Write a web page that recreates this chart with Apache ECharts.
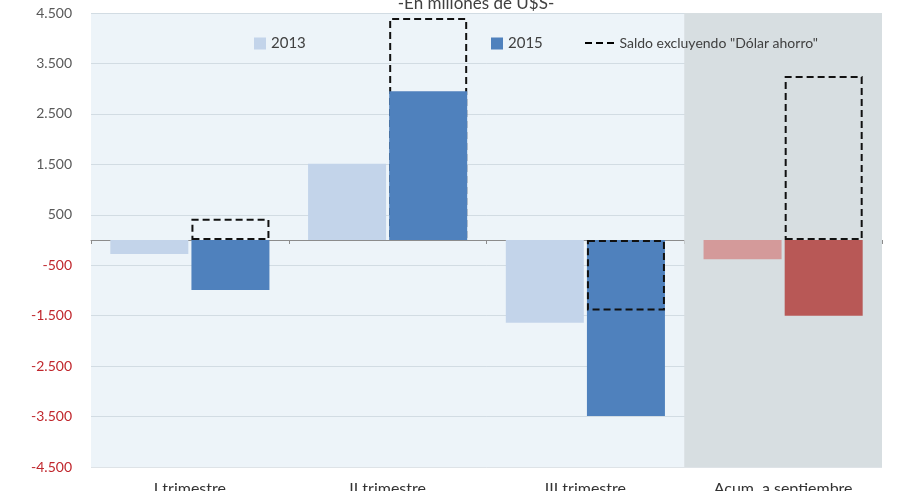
<!DOCTYPE html>
<html><head><meta charset="utf-8">
<script src="https://cdn.jsdelivr.net/npm/echarts@6/dist/echarts.min.js"></script>
<style>html,body{margin:0;padding:0;background:#fff}#c{width:908px;height:491px}</style>
</head><body><div id="c"></div>
<script>
const categories = ['I trimestre', 'II trimestre', 'III trimestre', 'Acum. a septiembre'];
const values2013 = [-280, 1510, -1640, -380];
const values2015 = [-990, 2950, -3490, -1500];
const saldoExcl = [420, 4400, -1400, 3250];
const yTicks = { min: -4500, max: 4500, interval: 1000 };
const titleText = '-En millones de U$S-';
const legendNames = ['2013', '2015', 'Saldo excluyendo "Dólar ahorro"'];

const FONT = 'Lato';
const fmt = v => {
  const s = Math.abs(v).toString().replace(/\B(?=(\d{3})+(?!\d))/g, '.');
  return (v < 0 ? '-' : '') + s;
};
const last = categories.length - 1;
const d2013 = values2013.map((v, i) => i === last ? { value: v, itemStyle: { color: '#D49A9A' } } : v);
const d2015 = values2015.map((v, i) => i === last ? { value: v, itemStyle: { color: '#B85856' } } : v);
// positive dashed outlines are drawn behind the 2015 bars, negative ones in front (as in the original)
const behind = saldoExcl.map(v => (v > 0 ? v : null));
const front = saldoExcl.map(v => (v > 0 ? null : v));
const dashStyle = { color: 'rgba(0,0,0,0)', borderColor: '#111', borderWidth: 2, borderType: [7, 4] };

const chart = echarts.init(document.getElementById('c'));
chart.setOption({
  animation: false,
  textStyle: { fontFamily: FONT },
  title: { text: titleText, left: 471, textAlign: 'center', top: -10,
    textStyle: { fontFamily: FONT, fontSize: 17, fontWeight: 'normal', color: '#404040' } },
  legend: [
    { data: [{ name: legendNames[0], icon: 'rect' }], left: 249, top: 31, itemWidth: 12, itemHeight: 12, itemGap: 4,
      textStyle: { fontSize: 15, color: '#404040', fontFamily: FONT } },
    { data: [{ name: legendNames[1], icon: 'rect' }], left: 486, top: 31, itemWidth: 12, itemHeight: 12, itemGap: 4,
      textStyle: { fontSize: 15, color: '#404040', fontFamily: FONT } },
    { data: [{ name: legendNames[2], icon: 'path://M0,0h7v2h-7zM11,0h7v2h-7zM22,0h7v2h-7z', itemStyle: { color: '#000', borderWidth: 0 } }],
      left: 580, top: 31, itemWidth: 30, itemHeight: 2, itemGap: 2,
      textStyle: { fontSize: 14, color: '#404040', fontFamily: FONT } }
  ],
  grid: { left: 91, right: 26, top: 13, bottom: 24, show: true, backgroundColor: '#EDF4F9', borderWidth: 0,
    containLabel: false, outerBoundsMode: 'none' },
  xAxis: [
    { type: 'category', data: categories, axisLine: { show: false, onZero: false }, axisTick: { show: false },
      axisLabel: { margin: 14, fontSize: 16, color: '#333', fontFamily: 'Liberation Sans Narrow, ' + FONT } },
    { type: 'category', data: categories, position: 'bottom',
      axisLine: { show: true, onZero: true, lineStyle: { color: '#8C8C8C', width: 1 } },
      axisTick: { show: true, length: 4, lineStyle: { color: '#8C8C8C' } }, axisLabel: { show: false } },
    { type: 'value', min: 0, max: categories.length, show: false }
  ],
  yAxis: {
    type: 'value', min: yTicks.min, max: yTicks.max, interval: yTicks.interval,
    axisLine: { show: false }, axisTick: { show: false },
    splitLine: { lineStyle: { color: 'rgba(160,175,185,0.35)', width: 1 } },
    axisLabel: { margin: 19, fontSize: 14, fontFamily: FONT, formatter: fmt,
      color: v => (v < 0 ? '#C0272D' : '#595959') }
  },
  series: [
    { name: '__bg', type: 'line', xAxisIndex: 2, data: [], silent: true,
      markArea: { silent: true, itemStyle: { color: '#D7DEE1' }, data: [[{ xAxis: last }, { xAxis: categories.length }]] } },
    { name: legendNames[0], type: 'bar', xAxisIndex: 0, data: d2013, barWidth: 78, barGap: '4%', itemStyle: { color: '#C3D4EA' }, z: 3 },
    { name: legendNames[1], type: 'bar', xAxisIndex: 0, data: d2015, barWidth: 78, barGap: '4%', itemStyle: { color: '#4F81BD' }, z: 4 },
    { name: '__slot', type: 'bar', xAxisIndex: 1, data: categories.map(() => null), barWidth: 78, barGap: '4%' },
    { name: legendNames[2], type: 'bar', xAxisIndex: 1, stack: 'saldo', data: front, barWidth: 78, barGap: '4%', z: 5,
      itemStyle: dashStyle },
    { name: '__saldoBehind', type: 'bar', xAxisIndex: 1, stack: 'saldo', data: behind, barWidth: 78, barGap: '4%', z: 3,
      itemStyle: dashStyle }
  ]
});
</script></body></html>
